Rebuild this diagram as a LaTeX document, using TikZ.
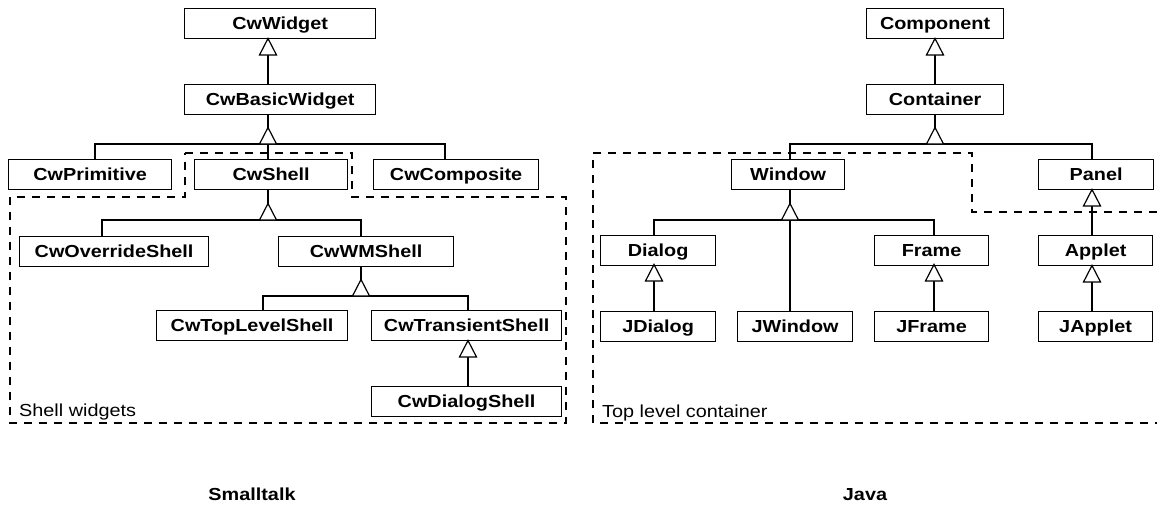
\documentclass[tikz,border=0pt]{standalone}
\usepackage{fontspec}
\setmainfont{Liberation Sans}[FakeStretch=1.14]
\begin{document}
\begin{tikzpicture}[x=1pt,y=-1pt,
  ln/.style={line width=1.2pt},
  cls/.style={draw, line width=1.2pt, minimum height=30pt, inner sep=0pt,
    text height=12.5pt, text depth=0pt, anchor=north west,
    font=\fontsize{17.4}{20}\selectfont\bfseries},
  grp/.style={line width=1.2pt, dash pattern=on 8pt off 7pt},
  lbl/.style={inner sep=0pt, anchor=base west, font=\fontsize{17.4}{20}\selectfont},
  ttl/.style={inner sep=0pt, anchor=base, font=\fontsize{17.4}{20}\selectfont\bfseries},
  tri/.pic={\draw[line width=1.2pt, fill=white] (-8.5,0) -- (0,-16.5) -- (8.5,0) -- cycle;}]
\useasboundingbox (0,0) rectangle (1157,504);

% ---------------- Smalltalk ----------------
\draw[grp] (185,153) -- (352,153) -- (352,197) -- (566,197) -- (566,423)
  -- (10,423) -- (10,197) -- (185,197) -- cycle;

\node[cls, minimum width=191pt] (wid)   at (184,8)   {CwWidget};
\node[cls, minimum width=191pt] (basic) at (184,84)  {CwBasicWidget};
\node[cls, minimum width=163pt] (prim)  at (8,159)   {CwPrimitive};
\node[cls, minimum width=153pt] (shell) at (194,159) {CwShell};
\node[cls, minimum width=165pt] (comp)  at (373,159) {CwComposite};
\node[cls, minimum width=189pt] (over)  at (19,236)  {CwOverrideShell};
\node[cls, minimum width=175pt] (wm)    at (278,236) {CwWMShell};
\node[cls, minimum width=191pt] (top)   at (156,310) {CwTopLevelShell};
\node[cls, minimum width=190pt] (trans) at (371,310) {CwTransientShell};
\node[cls, minimum width=190pt] (dlgs)  at (371,386) {CwDialogShell};

\coordinate (t1) at (268,55);
\coordinate (b1) at (268,144);  \coordinate (b1l) at (95,144);  \coordinate (b1r) at (445,144);
\coordinate (b2) at (268,220);  \coordinate (b2l) at (102,220); \coordinate (b2r) at (361,220);
\coordinate (b3) at (361,296);  \coordinate (b3l) at (263,296); \coordinate (b3r) at (468,296);
\coordinate (t2) at (468,357);

\draw[ln] (basic.north -| t1) -- (wid.south -| t1);
\draw[ln] (basic.south -| b1) -- (b1);
\draw[ln] (prim.north -| b1l) -- (b1l) -- (b1r) -- (comp.north -| b1r);
\draw[ln] (b1) -- (shell.north -| b1);
\draw[ln] (shell.south -| b2) -- (b2);
\draw[ln] (over.north -| b2l) -- (b2l) -- (b2r) -- (wm.north -| b2r);
\draw[ln] (wm.south -| b3) -- (b3);
\draw[ln] (top.north -| b3l) -- (b3l) -- (b3r) -- (trans.north -| b3r);
\draw[ln] (dlgs.north -| t2) -- (trans.south -| t2);

\pic at (t1) {tri};
\pic at (b1) {tri};
\pic at (b2) {tri};
\pic at (b3) {tri};
\pic at (t2) {tri};

\node[lbl] (lsw) at (19,416) {Shell widgets};
\node[ttl] (st) at (252,500) {Smalltalk};

% ---------------- Java ----------------
\draw[grp] (1157,212) -- (972,212) -- (972,153) -- (593,153) -- (593,423) -- (1157,423);

\node[cls, minimum width=137pt] (compo)  at (866,8)    {Component};
\node[cls, minimum width=137pt] (cont)   at (866,84)   {Container};
\node[cls, minimum width=113pt] (win)    at (731,159)  {Window};
\node[cls, minimum width=115pt] (panel)  at (1038,159) {Panel};
\node[cls, minimum width=115pt] (dialog) at (600,235)  {Dialog};
\node[cls, minimum width=114pt] (frame)  at (874,235)  {Frame};
\node[cls, minimum width=114pt] (applet) at (1038,235) {Applet};
\node[cls, minimum width=115pt] (jdialog) at (600,311) {JDialog};
\node[cls, minimum width=115pt] (jwindow) at (737,311) {JWindow};
\node[cls, minimum width=114pt] (jframe)  at (874,311) {JFrame};
\node[cls, minimum width=114pt] (japplet) at (1038,311) {JApplet};

\coordinate (t3) at (935,55);
\coordinate (b4) at (935,144); \coordinate (b4l) at (790,144); \coordinate (b4r) at (1092,144);
\coordinate (b5) at (790,220); \coordinate (b5l) at (654,220); \coordinate (b5r) at (934,220);
\coordinate (t4) at (654,281);
\coordinate (t5) at (934,281);
\coordinate (t6) at (1092,206);
\coordinate (t7) at (1092,282);

\draw[ln] (cont.north -| t3) -- (compo.south -| t3);
\draw[ln] (cont.south -| b4) -- (b4);
\draw[ln] (win.north -| b4l) -- (b4l) -- (b4r) -- (panel.north -| b4r);
\draw[ln] (win.south -| b5) -- (b5);
\draw[ln] (dialog.north -| b5l) -- (b5l) -- (b5r) -- (frame.north -| b5r);
\draw[ln] (b5) -- (jwindow.north -| b5);
\draw[ln] (jdialog.north -| t4) -- (dialog.south -| t4);
\draw[ln] (jframe.north -| t5) -- (frame.south -| t5);
\draw[ln] (applet.north -| t6) -- (panel.south -| t6);
\draw[ln] (japplet.north -| t7) -- (applet.south -| t7);

\pic at (t3) {tri};
\pic at (b4) {tri};
\pic at (b5) {tri};
\pic at (t4) {tri};
\pic at (t5) {tri};
\pic at (t6) {tri};
\pic at (t7) {tri};

\node[lbl] (ltc) at (602,417) {Top level container};
\node[ttl] (jv) at (865,500) {Java};
\end{tikzpicture}
\end{document}
